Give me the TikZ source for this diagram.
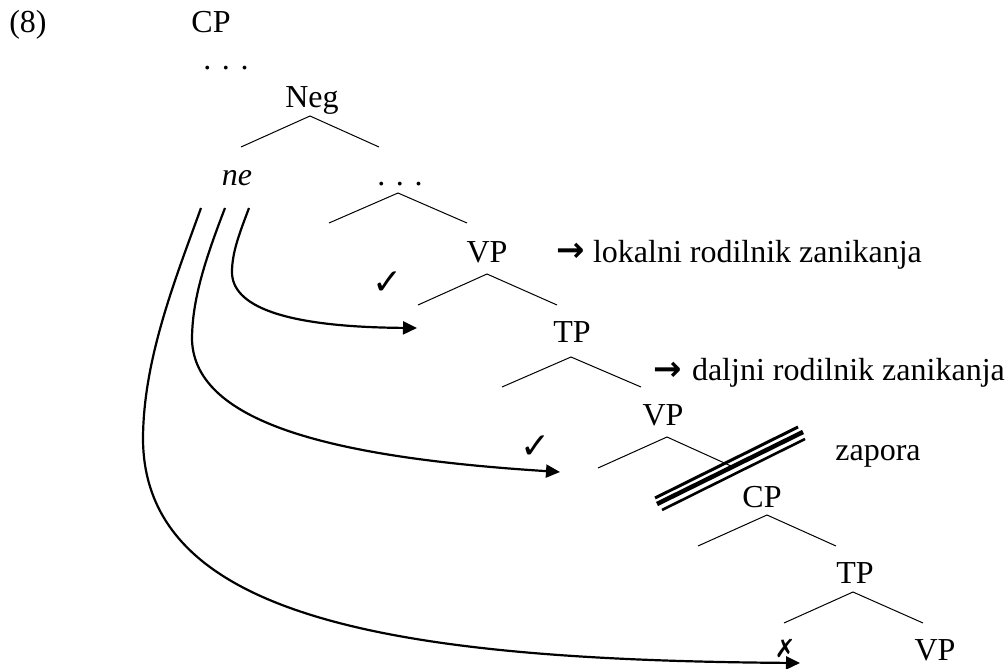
\documentclass[tikz,border=0pt]{standalone}
\usepackage{fontspec}
\setmainfont{Liberation Serif}
\newfontfamily\symfont{DejaVu Sans}
\usetikzlibrary{arrows.meta}
\begin{document}
\begin{tikzpicture}[x=1pt,y=-1pt,
  every node/.style={inner sep=0pt,outer sep=0pt},
  lbl/.style={anchor=base,font=\fontsize{32}{36}\selectfont},
  sym/.style={font=\symfont\bfseries\fontsize{34}{36}\selectfont},
  chk/.style={font=\symfont\fontsize{36}{38}\selectfont},
  xmk/.style={font=\symfont\bfseries\fontsize{25}{27}\selectfont},
  branch/.style={line width=1pt},
  curve/.style={line width=2.2pt,-{Triangle[length=14pt,width=13pt]}}]
\useasboundingbox (0,0) rectangle (1007,669);
% labels
\node[lbl] (ex) at (28,33) {(8)};
\node[lbl] (cp1) at (211,33) {CP};
\node[lbl] (d1) at (226,70) {. . .};
\node[lbl] (neg) at (312,107) {Neg};
\node[lbl,font=\fontsize{32}{36}\selectfont\itshape] (ne) at (237,185) {ne};
\node[lbl] (d2) at (400,185) {. . .};
\node[lbl] (vp1) at (487,262) {VP};
\node[lbl] (tp1) at (572,342) {TP};
\node[lbl] (vp2) at (663,425) {VP};
\node[lbl] (cp2) at (762,507) {CP};
\node[lbl] (tp2) at (855,583) {TP};
\node[lbl] (vp3) at (935,660) {VP};
\node[lbl,anchor=base west] (lok) at (593,262) {lokalni rodilnik zanikanja};
\node[lbl,anchor=base west] (dal) at (692,380) {daljni rodilnik zanikanja};
\node[lbl] (zap) at (878,460) {zapora};
\node[sym] (ar1) at (571,252) {→};
\node[sym] (ar2) at (668,371) {→};
\node[chk] (ck1) at (388,283) {✓};
\node[chk] (ck2) at (536,447) {✓};
\node[xmk] (xm) at (785,648) {✗};
% branch points
\coordinate (negA) at (310,116); \coordinate (negL) at (241,147); \coordinate (negR) at (379,147);
\coordinate (d2A) at (398,193); \coordinate (d2L) at (329,223); \coordinate (d2R) at (467,223);
\coordinate (vp1A) at (487,274); \coordinate (vp1L) at (418,305); \coordinate (vp1R) at (557,305);
\coordinate (tp1A) at (571,357); \coordinate (tp1L) at (502,387); \coordinate (tp1R) at (641,387);
\coordinate (vp2A) at (667,437); \coordinate (vp2L) at (598,468); \coordinate (vp2R) at (731,466);
\coordinate (cp2A) at (767,515); \coordinate (cp2L) at (698,546); \coordinate (cp2R) at (836,546);
\coordinate (tp2A) at (853,592); \coordinate (tp2L) at (784,623); \coordinate (tp2R) at (923,623);
\draw[branch] (negL) -- (negA) -- (negR);
\draw[branch] (d2L) -- (d2A) -- (d2R);
\draw[branch] (vp1L) -- (vp1A) -- (vp1R);
\draw[branch] (tp1L) -- (tp1A) -- (tp1R);
\draw[branch] (vp2L) -- (vp2A) -- (vp2R);
\draw[branch] (cp2L) -- (cp2A) -- (cp2R);
\draw[branch] (tp2L) -- (tp2A) -- (tp2R);
% barrier
\coordinate (zt1) at (655,498); \coordinate (zt2) at (798,427);
\coordinate (zm1) at (657,504); \coordinate (zm2) at (803,432);
\coordinate (zb1) at (662,510); \coordinate (zb2) at (805,439);
\draw[line width=3pt] (zt1) -- (zt2);
\draw[line width=4.5pt] (zm1) -- (zm2);
\draw[line width=2.6pt] (zb1) -- (zb2);
% movement arrows
\coordinate (s1) at (201,208); \coordinate (t1) at (800,663);
\coordinate (s2) at (225,208); \coordinate (t2) at (560,472);
\coordinate (s3) at (249,208); \coordinate (t3) at (417,328);
\draw[curve] (s1) .. controls (175,280) and (143,360) .. (143,440) .. controls (145,620) and (400,660) .. (t1);
\draw[curve] (s2) .. controls (205,260) and (192,300) .. (192,340) .. controls (195,425) and (340,458) .. (t2);
\draw[curve] (s3) .. controls (240,232) and (232,252) .. (232,272) .. controls (232,305) and (280,327) .. (t3);
\end{tikzpicture}
\end{document}
